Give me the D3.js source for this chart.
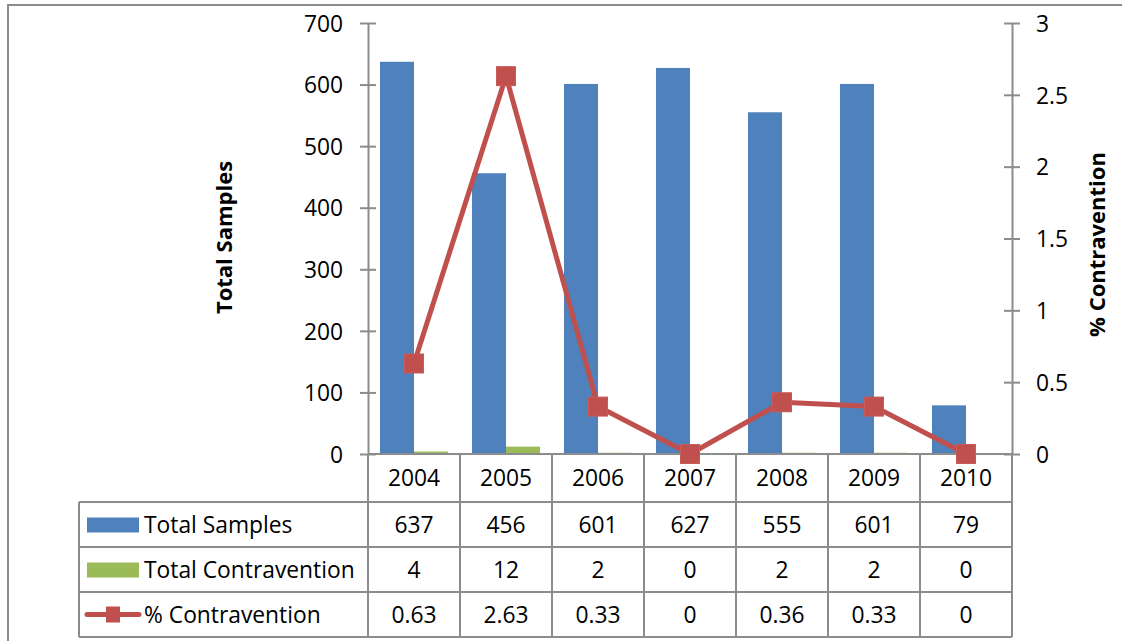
<!DOCTYPE html>
<html>
<head>
<meta charset="utf-8">
<script src="https://cdn.jsdelivr.net/npm/d3@7"></script>
<style>
  html, body { margin: 0; padding: 0; background: #fff; }
  svg { display: block; font-family: "Open Sans", Lato, sans-serif; }
</style>
</head>
<body>
<svg id="chart" width="1122" height="641"></svg>
<script>
// Yearly sampling results
const years = ["2004", "2005", "2006", "2007", "2008", "2009", "2010"];
const totalSamples = [637, 456, 601, 627, 555, 601, 79];
const totalContravention = [4, 12, 2, 0, 2, 2, 0];
const pctContravention = [0.63, 2.63, 0.33, 0, 0.36, 0.33, 0];
const leftTicks = [0, 100, 200, 300, 400, 500, 600, 700];
const rightTicks = [0, 0.5, 1, 1.5, 2, 2.5, 3];

const seriesNames = ["Total Samples", "Total Contravention", "% Contravention"];
const colors = { blue: "#4F81BD", green: "#9BBB59", red: "#C0504D", grid: "#8C8C8C" };

const svg = d3.select("#chart");
const plot = { left: 368, right: 1012, top: 23, bottom: 454 };
const table = { legendLeft: 79, headerBottom: 502, rowH: 45 };
const fontSize = 22.8;
const titleSize = 22;

// outer chart border (right and bottom edges run past the frame)
svg.append("rect")
  .attr("x", 8).attr("y", 5).attr("width", 1130).attr("height", 660)
  .attr("fill", "none").attr("stroke", colors.grid).attr("stroke-width", 2);

const x = d3.scaleBand().domain(years).range([plot.left, plot.right]).padding(0);
const bw = x.bandwidth();
const inset = bw * 0.13;
const x1 = d3.scaleBand().domain(["samples", "contra"]).range([inset, bw - inset]).padding(0);
const yL = d3.scaleLinear().domain([0, 700]).range([plot.bottom, plot.top]);
const yR = d3.scaleLinear().domain([0, 3]).range([plot.bottom, plot.top]);

// bars
const gBars = svg.append("g");
gBars.selectAll("rect.samples").data(years).join("rect")
  .attr("class", "samples")
  .attr("x", (d) => x(d) + x1("samples"))
  .attr("width", x1.bandwidth())
  .attr("y", (d, i) => yL(totalSamples[i]))
  .attr("height", (d, i) => yL(0) - yL(totalSamples[i]))
  .attr("fill", colors.blue);
gBars.selectAll("rect.contra").data(years).join("rect")
  .attr("class", "contra")
  .attr("x", (d) => x(d) + x1("contra"))
  .attr("width", x1.bandwidth())
  .attr("y", (d, i) => yL(totalContravention[i]))
  .attr("height", (d, i) => yL(0) - yL(totalContravention[i]))
  .attr("fill", colors.green);

// left axis
const axisL = d3.axisLeft(yL).tickValues(leftTicks).tickSize(0).tickPadding(0);
const gL = svg.append("g").attr("transform", `translate(${plot.left},0)`).call(axisL);
gL.select(".domain").attr("stroke", colors.grid).attr("stroke-width", 2);
gL.selectAll(".tick line").attr("x1", -8).attr("x2", 8).attr("stroke", colors.grid).attr("stroke-width", 2);
gL.selectAll(".tick text").attr("x", -25).attr("dy", "0.36em")
  .attr("font-size", fontSize).attr("font-family", "Open Sans").attr("fill", "#000");

// right axis
const axisR = d3.axisRight(yR).tickValues(rightTicks).tickFormat(d3.format("~g")).tickSize(0).tickPadding(0);
const gR = svg.append("g").attr("transform", `translate(${plot.right},0)`).call(axisR);
gR.select(".domain").attr("stroke", colors.grid).attr("stroke-width", 2);
gR.selectAll(".tick line").attr("x1", -8).attr("x2", 8).attr("stroke", colors.grid).attr("stroke-width", 2);
gR.selectAll(".tick text").attr("x", 24).attr("dy", "0.36em")
  .attr("font-size", fontSize).attr("font-family", "Open Sans").attr("fill", "#000");

// axis titles
const midY = (plot.top + plot.bottom) / 2;
svg.append("text").text("Total Samples")
  .attr("transform", `translate(232,${midY - 1}) rotate(-90)`)
  .attr("text-anchor", "middle").attr("font-weight", "bold")
  .attr("font-size", titleSize).attr("fill", "#000");
svg.append("text").text("% Contravention")
  .attr("transform", `translate(1105,${midY + 6}) rotate(-90)`)
  .attr("text-anchor", "middle").attr("font-weight", "bold")
  .attr("font-size", titleSize).attr("fill", "#000");

// category axis line
svg.append("line")
  .attr("x1", plot.left).attr("x2", plot.right)
  .attr("y1", plot.bottom).attr("y2", plot.bottom)
  .attr("stroke", colors.grid).attr("stroke-width", 2);

// data table grid
const rowTops = [table.headerBottom, table.headerBottom + table.rowH, table.headerBottom + 2 * table.rowH];
const tableBottom = table.headerBottom + 3 * table.rowH;
const gT = svg.append("g").attr("stroke", colors.grid).attr("stroke-width", 2);
rowTops.concat([tableBottom]).forEach((yy) => {
  gT.append("line").attr("x1", table.legendLeft).attr("x2", plot.right).attr("y1", yy).attr("y2", yy);
});
gT.append("line").attr("x1", table.legendLeft).attr("x2", table.legendLeft)
  .attr("y1", table.headerBottom).attr("y2", tableBottom);
years.forEach((yr) => {
  gT.append("line").attr("x1", x(yr)).attr("x2", x(yr)).attr("y1", plot.bottom).attr("y2", tableBottom);
});
gT.append("line").attr("x1", plot.right).attr("x2", plot.right).attr("y1", plot.bottom).attr("y2", tableBottom);

// header labels
svg.append("g").selectAll("text").data(years).join("text")
  .attr("x", (d) => x(d) + bw / 2)
  .attr("y", (plot.bottom + table.headerBottom) / 2)
  .attr("dy", "0.36em").attr("text-anchor", "middle")
  .attr("font-size", fontSize).attr("fill", "#000")
  .text((d) => d);

// table values
const rows = [totalSamples, totalContravention, pctContravention];
rows.forEach((vals, r) => {
  const cy = rowTops[r] + table.rowH / 2;
  svg.append("g").selectAll("text").data(vals).join("text")
    .attr("x", (d, i) => x(years[i]) + bw / 2)
    .attr("y", cy).attr("dy", "0.36em").attr("text-anchor", "middle")
    .attr("font-size", fontSize).attr("fill", "#000")
    .text((d) => String(d));
  // legend label
  svg.append("text").text(seriesNames[r])
    .attr("x", 144).attr("y", cy).attr("dy", "0.36em")
    .attr("font-size", fontSize).attr("fill", "#000");
});

// legend keys
const keyX = 87, keyW = 52;
svg.append("rect").attr("x", keyX).attr("width", keyW)
  .attr("y", rowTops[0] + table.rowH / 2 - 7).attr("height", 15).attr("fill", colors.blue);
svg.append("rect").attr("x", keyX).attr("width", keyW)
  .attr("y", rowTops[1] + table.rowH / 2 - 7).attr("height", 15).attr("fill", colors.green);
const ly = rowTops[2] + table.rowH / 2;
svg.append("line").attr("x1", keyX).attr("x2", keyX + keyW).attr("y1", ly).attr("y2", ly)
  .attr("stroke", colors.red).attr("stroke-width", 5).attr("stroke-linecap", "round");
svg.append("rect").attr("x", keyX + keyW / 2 - 7).attr("y", ly - 8).attr("width", 14).attr("height", 16)
  .attr("fill", colors.red);

// % contravention line on secondary axis
const line = d3.line()
  .x((d, i) => x(years[i]) + bw / 2)
  .y((d) => yR(d));
svg.append("path").datum(pctContravention)
  .attr("d", line).attr("fill", "none")
  .attr("stroke", colors.red).attr("stroke-width", 5).attr("stroke-linejoin", "round");
const ms = 19;
svg.append("g").selectAll("rect").data(pctContravention).join("rect")
  .attr("x", (d, i) => x(years[i]) + bw / 2 - ms / 2)
  .attr("y", (d) => yR(d) - ms / 2)
  .attr("width", ms).attr("height", ms)
  .attr("fill", colors.red).attr("stroke", "#C85B58").attr("stroke-width", 1);
</script>
</body>
</html>
